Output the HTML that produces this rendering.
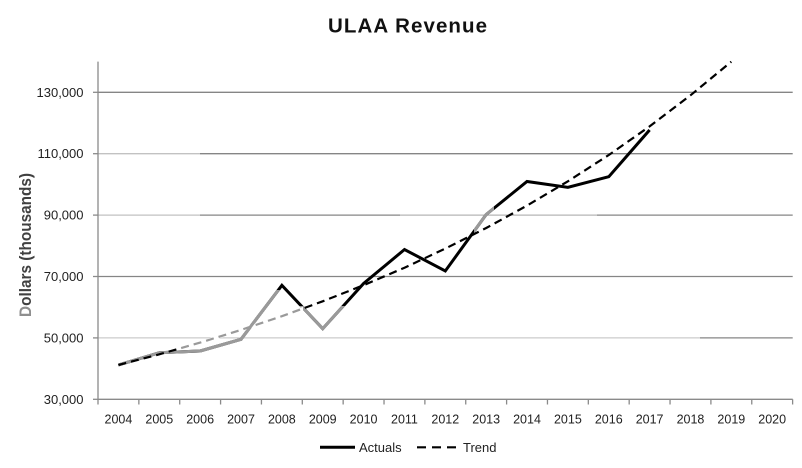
<!DOCTYPE html>
<html>
<head>
<meta charset="utf-8">
<style>
  html,body{margin:0;padding:0;background:#fff;}
  svg{display:block;}
  text{font-family:"Liberation Sans",Arial,sans-serif;}
</style>
</head>
<body>
<svg width="802" height="468" viewBox="0 0 802 468" xmlns="http://www.w3.org/2000/svg">
  <defs>
    <clipPath id="grayA"><rect x="98" y="306" width="247" height="94"/></clipPath>
    <clipPath id="grayB"><rect x="474" y="205" width="20" height="31"/></clipPath>
    <clipPath id="grayT"><rect x="180" y="290" width="123" height="110"/></clipPath>
  </defs>
  <rect x="0" y="0" width="802" height="468" fill="#fff"/>

  <!-- Title -->
  <text x="407.5" y="32.3" font-size="20.5" font-weight="bold" fill="#111" text-anchor="middle" textLength="159" lengthAdjust="spacing">ULAA Revenue</text>

  <!-- Gridlines -->
  <g stroke-width="1.3" fill="none">
    <line x1="98" y1="92.3" x2="792.7" y2="92.3" stroke="#858585"/>
    <line x1="98" y1="153.7" x2="200" y2="153.7" stroke="#c2c2c2"/>
    <line x1="200" y1="153.7" x2="792.7" y2="153.7" stroke="#858585"/>
    <line x1="98" y1="215.1" x2="200" y2="215.1" stroke="#c2c2c2"/>
    <line x1="200" y1="215.1" x2="400" y2="215.1" stroke="#858585"/>
    <line x1="400" y1="215.1" x2="597" y2="215.1" stroke="#b5b5b5"/>
    <line x1="597" y1="215.1" x2="792.7" y2="215.1" stroke="#858585"/>
    <line x1="98" y1="276.5" x2="792.7" y2="276.5" stroke="#858585"/>
    <line x1="98" y1="337.9" x2="700" y2="337.9" stroke="#cccccc"/>
    <line x1="700" y1="337.9" x2="792.7" y2="337.9" stroke="#858585"/>
  </g>

  <!-- Axes -->
  <g stroke="#8a8a8a" stroke-width="1.3" fill="none">
    <line x1="98" y1="61.6" x2="98" y2="399.3"/>
    <line x1="98" y1="399.3" x2="792.7" y2="399.3"/>
    <!-- y ticks -->
    <line x1="93" y1="92.3" x2="98" y2="92.3"/>
    <line x1="93" y1="153.7" x2="98" y2="153.7"/>
    <line x1="93" y1="215.1" x2="98" y2="215.1"/>
    <line x1="93" y1="276.5" x2="98" y2="276.5"/>
    <line x1="93" y1="337.9" x2="98" y2="337.9"/>
    <line x1="93" y1="399.3" x2="98" y2="399.3"/>
    <!-- x ticks -->
    <line x1="98" y1="399.3" x2="98" y2="404.5"/>
    <line x1="138.86" y1="399.3" x2="138.86" y2="404.5"/>
    <line x1="179.72" y1="399.3" x2="179.72" y2="404.5"/>
    <line x1="220.58" y1="399.3" x2="220.58" y2="404.5"/>
    <line x1="261.44" y1="399.3" x2="261.44" y2="404.5"/>
    <line x1="302.3" y1="399.3" x2="302.3" y2="404.5"/>
    <line x1="343.16" y1="399.3" x2="343.16" y2="404.5"/>
    <line x1="384.02" y1="399.3" x2="384.02" y2="404.5"/>
    <line x1="424.88" y1="399.3" x2="424.88" y2="404.5"/>
    <line x1="465.74" y1="399.3" x2="465.74" y2="404.5"/>
    <line x1="506.6" y1="399.3" x2="506.6" y2="404.5"/>
    <line x1="547.46" y1="399.3" x2="547.46" y2="404.5"/>
    <line x1="588.32" y1="399.3" x2="588.32" y2="404.5"/>
    <line x1="629.18" y1="399.3" x2="629.18" y2="404.5"/>
    <line x1="670.04" y1="399.3" x2="670.04" y2="404.5"/>
    <line x1="710.9" y1="399.3" x2="710.9" y2="404.5"/>
    <line x1="751.76" y1="399.3" x2="751.76" y2="404.5"/>
    <line x1="792.62" y1="399.3" x2="792.62" y2="404.5"/>
  </g>

  <!-- Y tick labels -->
  <g font-size="13" fill="#222" text-anchor="end">
    <text x="83.5" y="96.8">130,000</text>
    <text x="83.5" y="158.2">110,000</text>
    <text x="83.5" y="219.6">90,000</text>
    <text x="83.5" y="281">70,000</text>
    <text x="83.5" y="342.4">50,000</text>
    <text x="83.5" y="403.8">30,000</text>
  </g>

  <!-- X tick labels -->
  <g font-size="12.5" fill="#222" text-anchor="middle">
    <text x="118.43" y="423.3">2004</text>
    <text x="159.29" y="423.3">2005</text>
    <text x="200.15" y="423.3">2006</text>
    <text x="241.01" y="423.3">2007</text>
    <text x="281.87" y="423.3">2008</text>
    <text x="322.73" y="423.3">2009</text>
    <text x="363.59" y="423.3">2010</text>
    <text x="404.45" y="423.3">2011</text>
    <text x="445.31" y="423.3">2012</text>
    <text x="486.17" y="423.3">2013</text>
    <text x="527.03" y="423.3">2014</text>
    <text x="567.89" y="423.3">2015</text>
    <text x="608.75" y="423.3">2016</text>
    <text x="649.61" y="423.3">2017</text>
    <text x="690.47" y="423.3">2018</text>
    <text x="731.33" y="423.3">2019</text>
    <text x="772.19" y="423.3">2020</text>
  </g>

  <!-- Y axis title -->
  <text transform="translate(31,245) rotate(-90)" font-size="17" font-weight="bold" fill="#404040" text-anchor="middle" textLength="144" lengthAdjust="spacingAndGlyphs"><tspan fill="#8f8f8f">D</tspan>ollars (thousands)</text>

  <!-- Actuals -->
  <polyline fill="none" stroke="#000" stroke-width="3" stroke-linejoin="miter"
    points="118.4,365 159.3,352.7 200.2,351 241,339.3 281.9,285.3 322.7,328.7 363.6,283.5 404.5,249.5 445.3,271 486.2,214.5 527,181.5 567.9,187.3 608.8,176.7 649.6,130"/>
  <g clip-path="url(#grayA)">
    <polyline fill="none" stroke="#9a9a9a" stroke-width="3" stroke-linejoin="miter"
      points="118.4,365 159.3,352.7 200.2,351 241,339.3 281.9,285.3 322.7,328.7 363.6,283.5 404.5,249.5"/>
  </g>
  <g clip-path="url(#grayB)">
    <polyline fill="none" stroke="#9a9a9a" stroke-width="3" stroke-linejoin="miter"
      points="445.3,271 486.2,214.5 527,181.5"/>
  </g>

  <!-- Trend -->
  <polyline fill="none" stroke="#000" stroke-width="2.2" stroke-dasharray="8,5"
    points="118.4,365 159.3,354.3 200.2,342.6 241,329.9 281.9,316.2 322.7,301.3 363.6,285.2 404.5,267.7 445.3,248.6 486.2,228 527,205.6 567.9,181.3 608.8,155 649.6,126.4 690.5,95.3 731.3,61.7"/>
  <g clip-path="url(#grayT)">
    <rect x="180" y="290" width="123" height="110" fill="none"/>
    <polyline fill="none" stroke="#fff" stroke-width="3.2"
      points="159.3,354.3 200.2,342.6 241,329.9 281.9,316.2 322.7,301.3"/>
    <polyline fill="none" stroke="#9a9a9a" stroke-width="3" stroke-linejoin="miter"
      points="200.2,351 241,339.3 281.9,285.3"/>
    <polyline fill="none" stroke="#9a9a9a" stroke-width="2.2" stroke-dasharray="8,5"
      points="118.4,365 159.3,354.3 200.2,342.6 241,329.9 281.9,316.2 322.7,301.3 363.6,285.2"/>
  </g>

  <!-- Legend -->
  <line x1="320" y1="447.3" x2="355" y2="447.3" stroke="#000" stroke-width="3"/>
  <text x="359" y="452" font-size="13" fill="#222">Actuals</text>
  <line x1="417" y1="447.3" x2="456" y2="447.3" stroke="#000" stroke-width="2.2" stroke-dasharray="9,6"/>
  <text x="463" y="452" font-size="13" fill="#222">Trend</text>
</svg>
</body>
</html>
